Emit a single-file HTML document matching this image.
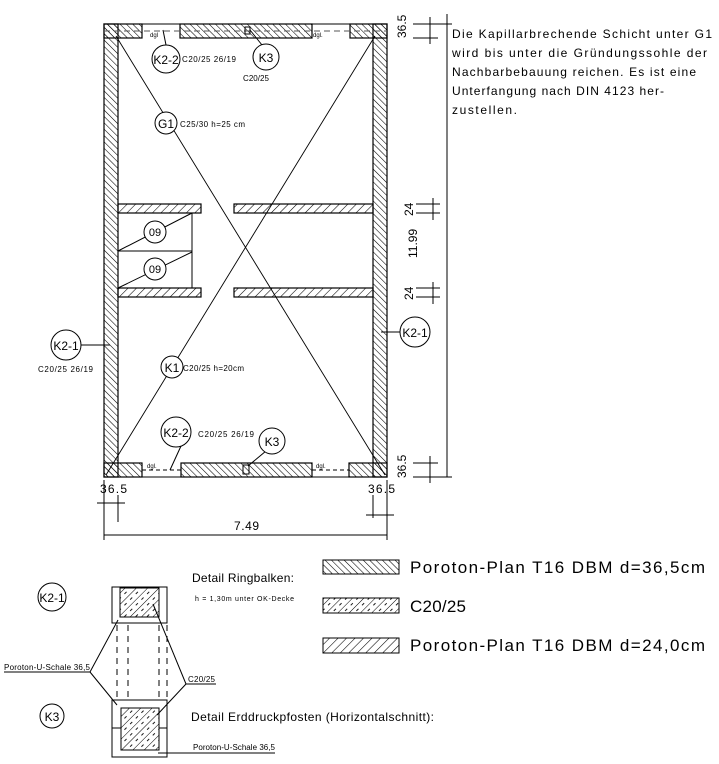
<!DOCTYPE html>
<html><head><meta charset="utf-8"><style>
html,body{margin:0;padding:0;background:#fff;width:719px;height:764px;overflow:hidden}
text{font-family:"Liberation Sans",sans-serif;fill:#000}
</style></head><body>
<svg width="719" height="764" viewBox="0 0 719 764" xmlns="http://www.w3.org/2000/svg">
<defs>
<pattern id="bs" patternUnits="userSpaceOnUse" width="4.5" height="5" patternTransform="rotate(-45)">
<line x1="0" y1="0" x2="0" y2="5" stroke="#000" stroke-width="1.1"/></pattern>
<pattern id="fs" patternUnits="userSpaceOnUse" width="6" height="7" patternTransform="rotate(45)">
<line x1="0" y1="0" x2="0" y2="7" stroke="#000" stroke-width="1.1"/></pattern>
<pattern id="cc" patternUnits="userSpaceOnUse" width="8" height="8" patternTransform="rotate(45)">
<line x1="0" y1="0" x2="0" y2="8" stroke="#000" stroke-width="1"/>
<line x1="4" y1="1" x2="4" y2="4" stroke="#000" stroke-width="0.9"/></pattern>
</defs>
<g stroke="#000" stroke-width="1.2" fill="url(#bs)">
<rect x="104" y="24" width="14" height="453"/>
<rect x="373" y="24" width="14" height="453"/>
<rect x="104" y="24" width="38" height="14"/>
<rect x="180" y="24" width="132" height="14"/>
<rect x="350" y="24" width="37" height="14"/>
<rect x="104" y="463" width="38" height="14"/>
<rect x="181" y="463" width="131" height="14"/>
<rect x="349" y="463" width="38" height="14"/>
</g>
<g stroke="#000" stroke-width="1.2" fill="url(#fs)">
<rect x="118" y="204" width="83" height="9"/>
<rect x="234" y="204" width="139" height="9"/>
<rect x="118" y="288" width="83" height="9"/>
<rect x="234" y="288" width="139" height="9"/>
</g>
<g stroke="#000" stroke-width="1" fill="none">
<line x1="142" y1="24" x2="180" y2="24"/><line x1="312" y1="24" x2="350" y2="24"/>
<line x1="142" y1="477" x2="181" y2="477"/><line x1="312" y1="477" x2="349" y2="477"/>
<line x1="104" y1="31" x2="387" y2="31" stroke-dasharray="6,4" stroke="#555"/>
<line x1="142" y1="470" x2="181" y2="470" stroke-dasharray="4,3"/>
<line x1="312" y1="470" x2="349" y2="470" stroke-dasharray="4,3"/>
<line x1="116" y1="36" x2="385" y2="475" stroke-width="0.9"/>
<line x1="375" y1="36" x2="106" y2="475" stroke-width="0.9"/>
<line x1="192" y1="213" x2="192" y2="288"/>
<line x1="118" y1="251" x2="192" y2="251"/>
<line x1="118" y1="251" x2="192" y2="213"/>
<line x1="118" y1="288" x2="192" y2="252"/>
<rect x="243" y="465" width="6" height="9"/>
<rect x="245" y="27" width="5" height="7"/>
<line x1="163" y1="30" x2="166" y2="45"/>
<line x1="250" y1="30" x2="262" y2="45"/>
<line x1="81" y1="345" x2="110" y2="345"/>
<line x1="400" y1="332" x2="381" y2="332"/>
<line x1="181" y1="446" x2="170" y2="470"/>
<line x1="266" y1="451" x2="248" y2="466"/>
</g>
<g stroke="#000" stroke-width="1" fill="#fff">
<circle cx="166" cy="59" r="14"/><circle cx="266" cy="57" r="13"/>
<circle cx="166" cy="123" r="11"/><circle cx="155" cy="232" r="11"/>
<circle cx="155" cy="269" r="11"/><circle cx="66" cy="345" r="15"/>
<circle cx="415" cy="332" r="15"/><circle cx="172" cy="367" r="11"/>
<circle cx="176" cy="432" r="15"/><circle cx="272" cy="441" r="13"/>
<circle cx="52" cy="597" r="14"/><circle cx="52" cy="716" r="12"/>
</g>
<g font-size="12" text-anchor="middle">
<text x="166" y="64">K2-2</text><text x="266" y="62">K3</text>
<text x="166" y="128">G1</text><text x="155" y="236" font-size="11">09</text>
<text x="155" y="273" font-size="11">09</text><text x="66" y="350">K2-1</text>
<text x="415" y="337">K2-1</text><text x="172" y="372">K1</text>
<text x="176" y="437">K2-2</text><text x="272" y="446">K3</text>
<text x="52" y="602">K2-1</text><text x="52" y="721">K3</text>
</g>
<g font-size="8">
<text x="182" y="62" textLength="54">C20/25 26/19</text>
<text x="243" y="81" textLength="26">C20/25</text>
<text x="180" y="127" textLength="65">C25/30 h=25 cm</text>
<text x="183" y="371" textLength="61">C20/25 h=20cm</text>
<text x="38" y="372" textLength="55">C20/25 26/19</text>
<text x="198" y="437" textLength="56">C20/25 26/19</text>
<text x="150" y="37" font-size="6">dgl</text><text x="313" y="37" font-size="6">dgl.</text>
<text x="147" y="468" font-size="6">dgl.</text><text x="316" y="468" font-size="6">dgl.</text>
</g>
<!-- right dims -->
<g stroke="#000" stroke-width="1">
<line x1="447" y1="14" x2="447" y2="477"/>
<line x1="413" y1="24" x2="452" y2="24"/><line x1="413" y1="38" x2="438" y2="38"/>
<line x1="430" y1="17" x2="430" y2="44"/>
<line x1="416" y1="204" x2="440" y2="204"/><line x1="416" y1="213" x2="440" y2="213"/>
<line x1="433" y1="198" x2="433" y2="220"/>
<line x1="416" y1="288" x2="440" y2="288"/><line x1="416" y1="297" x2="440" y2="297"/>
<line x1="433" y1="282" x2="433" y2="304"/>
<line x1="413" y1="463" x2="438" y2="463"/><line x1="413" y1="477" x2="452" y2="477"/>
<line x1="430" y1="456" x2="430" y2="483"/>
<line x1="104" y1="480" x2="104" y2="540"/><line x1="118" y1="495" x2="118" y2="522"/>
<line x1="97" y1="503" x2="125" y2="503"/>
<line x1="373" y1="495" x2="373" y2="518"/><line x1="387" y1="480" x2="387" y2="540"/>
<line x1="366" y1="515" x2="394" y2="515"/>
<line x1="104" y1="535" x2="387" y2="535"/>
</g>
<g font-size="12">
<text transform="translate(406,38) rotate(-90)">36.5</text>
<text transform="translate(413,216) rotate(-90)">24</text>
<text transform="translate(417,258) rotate(-90)">11.99</text>
<text transform="translate(413,300) rotate(-90)">24</text>
<text transform="translate(406,478) rotate(-90)">36.5</text>
<text x="100" y="493" textLength="27">36.5</text>
<text x="368" y="493" textLength="27">36.5</text>
<text x="234" y="530" textLength="25">7.49</text>
</g>
<g font-size="12">
<text x="452" y="38" textLength="260">Die Kapillarbrechende Schicht unter G1</text>
<text x="452" y="57" textLength="255">wird bis unter die Gründungssohle der</text>
<text x="452" y="76" textLength="244">Nachbarbebauung reichen. Es ist eine</text>
<text x="452" y="95" textLength="212">Unterfangung nach DIN 4123 her-</text>
<text x="452" y="114" textLength="65">zustellen.</text>
</g>
<!-- legend -->
<rect x="323" y="560" width="76" height="14" fill="url(#bs)" stroke="#000"/>
<rect x="323" y="598" width="76" height="15" fill="url(#cc)" stroke="#000"/>
<rect x="323" y="638" width="76" height="15" fill="url(#fs)" stroke="#000"/>
<g font-size="17">
<text x="410" y="573" textLength="295">Poroton-Plan T16 DBM d=36,5cm</text>
<text x="410" y="612" textLength="56">C20/25</text>
<text x="410" y="651" textLength="295">Poroton-Plan T16 DBM d=24,0cm</text>
</g>
<!-- details -->
<g stroke="#000" stroke-width="1" fill="none">
<rect x="112" y="587" width="55" height="36"/>
<rect x="112" y="700" width="55" height="57"/>
<line x1="112" y1="728" x2="121" y2="728"/><line x1="159" y1="728" x2="167" y2="728"/>
<g stroke-dasharray="6,5">
<line x1="117" y1="625" x2="117" y2="700"/><line x1="128" y1="625" x2="128" y2="700"/>
<line x1="159" y1="625" x2="159" y2="700"/><line x1="167" y1="625" x2="167" y2="700"/>
</g>
<line x1="4" y1="672" x2="90" y2="672"/>
<line x1="90" y1="672" x2="118" y2="620"/><line x1="90" y1="672" x2="117" y2="705"/>
<line x1="186" y1="684" x2="216" y2="684"/>
<line x1="186" y1="684" x2="153" y2="604"/><line x1="186" y1="684" x2="157" y2="715"/>
<line x1="158" y1="753" x2="275" y2="753"/>
</g>
<rect x="120" y="588" width="39" height="29" fill="url(#cc)" stroke="#000"/>
<rect x="121" y="708" width="38" height="42" fill="url(#cc)" stroke="#000"/>
<text x="192" y="582" font-size="12" textLength="102">Detail Ringbalken:</text>
<text x="195" y="601" font-size="7" textLength="99">h = 1,30m unter OK-Decke</text>
<text x="191" y="721" font-size="12" textLength="243">Detail Erddruckpfosten (Horizontalschnitt):</text>
<text x="4" y="670" font-size="8" textLength="86">Poroton-U-Schale 36,5</text>
<text x="188" y="682" font-size="8" textLength="27">C20/25</text>
<text x="193" y="750" font-size="8" textLength="82">Poroton-U-Schale 36,5</text>
</svg>
</body></html>
